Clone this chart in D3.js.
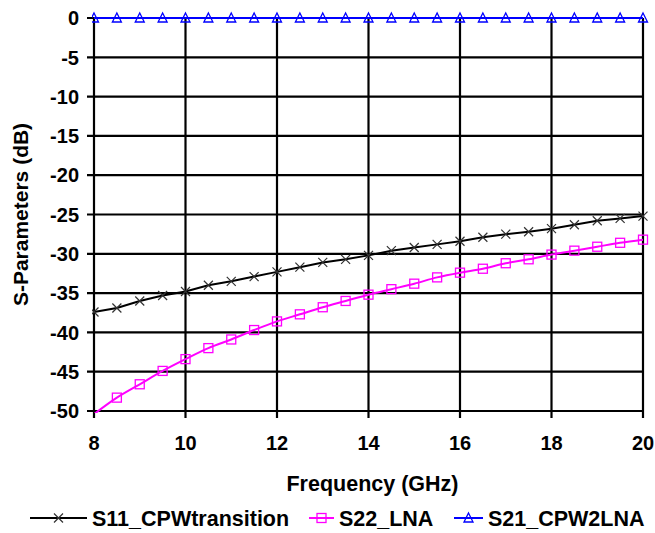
<!DOCTYPE html>
<html>
<head>
<meta charset="utf-8">
<script src="https://cdn.jsdelivr.net/npm/d3@7"></script>
<style>
  body { margin: 0; background: #fff; }
  svg text { font-family: "Liberation Sans", Arial, sans-serif; font-weight: bold; fill: #000; }
</style>
</head>
<body>
<div id="chart"></div>
<script>
// frequency points (GHz), one marker every 0.5 GHz
var freqs = [8, 8.5, 9, 9.5, 10, 10.5, 11, 11.5, 12, 12.5, 13, 13.5, 14,
             14.5, 15, 15.5, 16, 16.5, 17, 17.5, 18, 18.5, 19, 19.5, 20];

var s11 = [-37.4, -36.9, -36.0, -35.3, -34.8, -34.0, -33.5, -32.9, -32.3, -31.7, -31.1, -30.7, -30.2,
           -29.6, -29.2, -28.8, -28.4, -27.9, -27.5, -27.2, -26.8, -26.3, -25.8, -25.5, -25.2];
var s22 = [-50.4, -48.3, -46.6, -44.9, -43.4, -42.0, -40.9, -39.7, -38.6, -37.7, -36.8, -36.0, -35.2,
           -34.5, -33.8, -33.0, -32.4, -31.9, -31.2, -30.7, -30.1, -29.6, -29.1, -28.6, -28.2];
var s21 = [0, 0, 0, 0, 0, 0, 0, 0, 0, 0, 0, 0, 0,
           0, 0, 0, 0, 0, 0, 0, 0, 0, 0, 0, 0];

var seriesNames = ["S11_CPWtransition", "S22_LNA", "S21_CPW2LNA"];
var xTicks = [8, 10, 12, 14, 16, 18, 20];
var yTicks = [0, -5, -10, -15, -20, -25, -30, -35, -40, -45, -50];

var width = 655, height = 533,
    margin = { top: 18, right: 12, bottom: 122, left: 94 },
    plotW = width - margin.left - margin.right,
    plotH = height - margin.top - margin.bottom;

var svg = d3.select("#chart").append("svg")
    .attr("width", width)
    .attr("height", height);

var x = d3.scaleLinear().domain([8, 20]).range([0, plotW]);
var y = d3.scaleLinear().domain([-50, 0]).range([plotH, 0]);

var g = svg.append("g")
    .attr("transform", "translate(" + margin.left + "," + margin.top + ")");

// grid
g.append("g").selectAll("line.h")
    .data(yTicks).enter().append("line")
    .attr("x1", -7).attr("x2", plotW)
    .attr("y1", function(d) { return y(d); })
    .attr("y2", function(d) { return y(d); })
    .attr("stroke", "#000").attr("stroke-width", 2.2);

g.append("g").selectAll("line.v")
    .data(xTicks).enter().append("line")
    .attr("y1", 0).attr("y2", plotH + 7)
    .attr("x1", function(d) { return x(d); })
    .attr("x2", function(d) { return x(d); })
    .attr("stroke", "#000").attr("stroke-width", 2.2);

// tick labels
g.append("g").selectAll("text")
    .data(yTicks).enter().append("text")
    .attr("x", -15)
    .attr("y", function(d) { return y(d); })
    .attr("dy", "0.36em")
    .attr("text-anchor", "end")
    .style("font-size", "20px")
    .text(function(d) { return d; });

g.append("g").selectAll("text")
    .data(xTicks).enter().append("text")
    .attr("x", function(d) { return x(d); })
    .attr("y", plotH + 39)
    .attr("text-anchor", "middle")
    .style("font-size", "20px")
    .text(function(d) { return d; });

// axis titles
svg.append("text")
    .attr("x", margin.left + plotW / 2 + 4)
    .attr("y", 491)
    .attr("text-anchor", "middle")
    .style("font-size", "21.5px")
    .text("Frequency (GHz)");

svg.append("text")
    .attr("transform", "translate(28," + (margin.top + plotH / 2) + ") rotate(-90)")
    .attr("text-anchor", "middle")
    .style("font-size", "21px")
    .text("S-Parameters (dB)");

var colors = ["#000000", "#ff00ff", "#0000ff"];
var data = [s11, s22, s21];

g.append("defs").append("clipPath").attr("id", "clip")
  .append("rect").attr("x", -2).attr("y", -10).attr("width", plotW + 8).attr("height", plotH + 12);

var lineSharp = d3.line()
    .x(function(d, i) { return x(freqs[i]); })
    .y(function(d) { return y(d); });
var lineSmooth = d3.line()
    .x(function(d, i) { return x(freqs[i]); })
    .y(function(d) { return y(d); })
    .curve(d3.curveCatmullRom);

// marker shapes
function drawMarker(sel, k, col) {
  if (k === 0) {
    sel.append("path")
      .attr("d", "M-4.5,-4.5L4.5,4.5M-4.5,4.5L4.5,-4.5")
      .attr("stroke", "#333").attr("stroke-width", 1.2).attr("fill", "none");
  } else if (k === 1) {
    sel.append("rect")
      .attr("x", -4.5).attr("y", -4.5).attr("width", 9).attr("height", 9)
      .attr("stroke", col).attr("stroke-width", 1.3).attr("fill", "none");
  } else {
    sel.append("path")
      .attr("d", "M0,-5L4.5,4L-4.5,4Z")
      .attr("stroke", col).attr("stroke-width", 1.3).attr("fill", "none");
  }
}

data.forEach(function(vals, k) {
  var sg = g.append("g").attr("clip-path", "url(#clip)");
  sg.append("path")
    .datum(vals)
    .attr("d", k === 0 ? lineSharp : lineSmooth)
    .attr("fill", "none")
    .attr("stroke", colors[k])
    .attr("stroke-width", 2);
  vals.forEach(function(v, i) {
    if (v < -50) return;
    var m = sg.append("g").attr("transform", "translate(" + x(freqs[i]) + "," + y(v) + ")");
    drawMarker(m, k, colors[k]);
  });
});

// legend
var legendItems = [
  { x: 30, tx: 92 },
  { x: 309, tx: 339 },
  { x: 454, tx: 488 }
];
var lg = svg.append("g").attr("transform", "translate(0,518)");
legendItems.forEach(function(it, k) {
  var w = it.tx - it.x - 5;
  lg.append("line")
    .attr("x1", it.x).attr("x2", it.x + w)
    .attr("stroke", colors[k]).attr("stroke-width", 2);
  var m = lg.append("g").attr("transform", "translate(" + (it.x + w / 2) + ",0)");
  drawMarker(m, k, colors[k]);
  lg.append("text")
    .attr("x", it.tx)
    .attr("dy", "0.36em")
    .style("font-size", "21.5px")
    .text(seriesNames[k]);
});
</script>
</body>
</html>
